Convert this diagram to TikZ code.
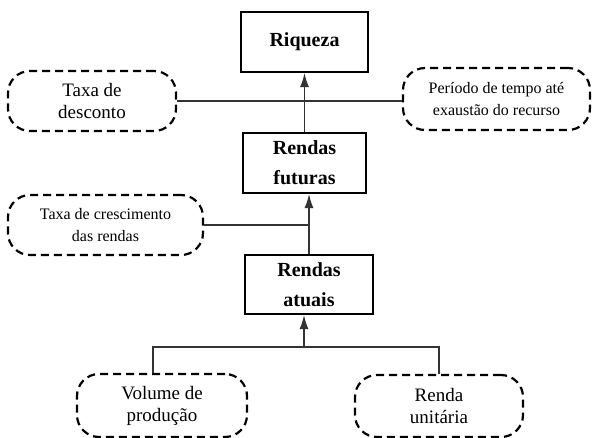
\documentclass[tikz,border=0pt]{standalone}
\usepackage{fontspec}
\setmainfont{Liberation Serif}
\usepackage{tikz}
\usetikzlibrary{arrows,arrows.meta,calc}

\tikzset{
  caixa/.style={draw, line width=2.2pt, align=center, inner sep=0pt,
    font=\fontsize{20}{30}\selectfont\bfseries},
  fator/.style={draw, line width=2.2pt, dash pattern=on 8pt off 5pt,
    rounded corners=22pt, align=center, inner sep=0pt},
  grande/.style={font=\fontsize{19}{22}\selectfont},
  pequena/.style={font=\fontsize{16}{22}\selectfont},
  liga/.style={line width=1.2pt, black!80},
  seta/.style={liga, -{Latex[length=14pt,width=9pt]}}
}

\begin{document}
\begin{tikzpicture}[x=1pt,y=-1pt]
\useasboundingbox (0,0) rectangle (592,437);
\node[caixa, minimum width=127, minimum height=60] (riq) at (304.5,42) {Riqueza};
\node[caixa, minimum width=123, minimum height=60] (fut) at (304.5,163) {Rendas\\futuras};
\node[caixa, minimum width=128, minimum height=59] (atu) at (309,284.5) {Rendas\\atuais};
\node[fator, grande, minimum width=168, minimum height=60] (desc) at (92,101) {Taxa de\\desconto};
\node[fator, pequena, minimum width=187, minimum height=62] (per) at (496.5,99) {Período de tempo até\\exaustão do recurso};
\node[fator, pequena, minimum width=195, minimum height=60] (cres) at (105.5,225) {Taxa de crescimento\\das rendas};
\node[fator, grande, minimum width=170, minimum height=63] (vol) at (162,405.5) {Volume de\\produção};
\node[fator, grande, minimum width=168, minimum height=62] (ren) at (439,406) {Renda\\unitária};
\coordinate (j) at (304,347);
\draw[liga] (desc.east) -- (desc.east -| per.west);
\draw[liga] (cres.east) -- (cres.east -| atu.north);
\draw[liga] ([xshift=-9]vol.north) |- (ren.north |- j) -- (ren.north);
\draw[seta] (fut.north) -- (riq.south);
\draw[seta] (atu.north) -- (atu.north |- fut.south);
\draw[seta] (j) -- (j |- atu.south);
\end{tikzpicture}
\end{document}
